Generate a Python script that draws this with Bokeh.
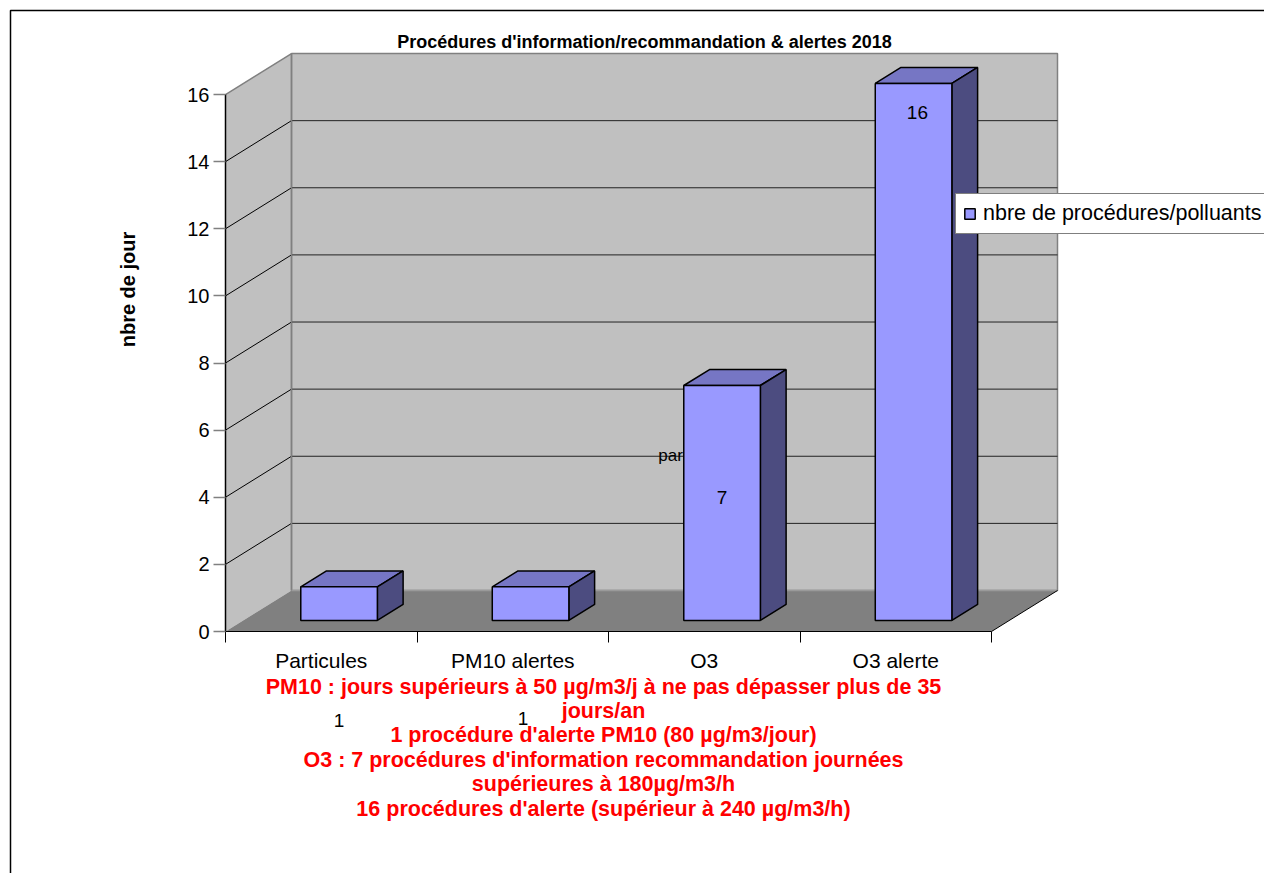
import numpy as np
from bokeh.plotting import figure
from bokeh.models import (Range1d, FixedTicker, Label, Legend, LegendItem,
                          ColumnDataSource, BoxAnnotation)
from bokeh.embed import file_html
from bokeh.resources import INLINE

# ---------------- data ----------------
categories = ["Particules", "PM10 alertes", "O3", "O3 alerte"]
counts = [1, 1, 7, 16]
y_ticks = [0, 2, 4, 6, 8, 10, 12, 14, 16]
series_name = "nbre de procédures/polluants"
title_text = "Procédures d'information/recommandation & alertes 2018"
y_label = "nbre de jour"
notes = [
    "PM10 : jours supérieurs à 50 µg/m3/j à ne pas dépasser plus de 35",
    "jours/an",
    "1 procédure d'alerte PM10 (80 µg/m3/jour)",
    "O3 : 7 procédures d'information recommandation journées",
    "supérieures à 180µg/m3/h",
    "16 procédures d'alerte (supérieur à 240 µg/m3/h)",
]

# ---------------- layout constants (pixels) ----------------
W, H = 1264, 873
X0, Y0 = 225, 631        # pixel position of the origin (front-left-bottom corner)
PX_X = 191.5             # px per category
PX_Y = 33.56             # px per value unit
DX = 66 / PX_X           # depth offset, data units
DY = 41 / PX_Y
YMAX = y_ticks[-1]
NC = len(categories)
FONT = "Liberation Sans"

BAR_W = 0.40
F0, F1 = 0.27, 0.66      # bar depth (fraction of box depth)

FRONT = "#9999FF"
TOP = "#7676C4"
SIDE = "#4C4C80"


def sy(py):
    """canvas pixel row -> screen units (measured up from bottom of frame)"""
    return H - py


p = figure(width=W, height=H, output_backend="svg", toolbar_location=None,
           x_range=Range1d(-X0 / PX_X, (W - X0) / PX_X),
           y_range=Range1d(-(H - Y0) / PX_Y, Y0 / PX_Y),
           min_border=0, min_border_left=0, min_border_right=0,
           min_border_top=0, min_border_bottom=0)
p.outline_line_color = None
p.xgrid.visible = False
p.ygrid.visible = False
p.background_fill_color = "white"
p.border_fill_color = "white"

# ---------------- 3D box ----------------
p.patch([0, DX, DX, 0], [0, DY, YMAX + DY, YMAX], fill_color="#C0C0C0", line_color=None)
p.quad(left=[DX], right=[NC + DX], bottom=[DY], top=[YMAX + DY],
       fill_color="#C0C0C0", line_color="#808080", line_width=1.5)
p.patch([0, NC, NC + DX, DX], [0, 0, DY, DY], fill_color="#808080", line_color=None)

inner = y_ticks[1:-1]
p.multi_line([[0, DX] for v in inner], [[v, v + DY] for v in inner], line_color="black", line_width=1)
p.multi_line([[DX, NC + DX] for v in inner], [[v + DY, v + DY] for v in inner], line_color="#222222", line_width=1)
p.line([0, DX], [YMAX, YMAX + DY], line_color="#808080", line_width=1.5)
p.line([DX, DX], [DY, YMAX + DY], line_color="#808080", line_width=1.5)
p.line([DX, NC + DX], [DY, DY], line_color="#9a9a9a", line_width=1.5)
p.line([NC, NC + DX], [0, DY], line_color="black", line_width=1)

# ---------------- bars ----------------
centers = np.arange(NC) + 0.5
fx, fy = F0 * DX, F0 * DY
bdx, bdy = (F1 - F0) * DX, (F1 - F0) * DY
L = centers - BAR_W / 2 + fx
R = centers + BAR_W / 2 + fx
vals = np.array(counts, dtype=float)

top_xs = [[l, r, r + bdx, l + bdx] for l, r in zip(L, R)]
top_ys = [[v + fy, v + fy, v + fy + bdy, v + fy + bdy] for v in vals]
side_xs = [[r, r, r + bdx, r + bdx] for r in R]
side_ys = [[fy, v + fy, v + fy + bdy, fy + bdy] for v in vals]

p.patches(top_xs, top_ys, fill_color=TOP, line_color="black", line_width=1.5)
p.patches(side_xs, side_ys, fill_color=SIDE, line_color="black", line_width=1.5)
src = ColumnDataSource(dict(left=L, right=R, bottom=np.full(NC, fy), top=vals + fy, cat=categories))
front = p.quad(left="left", right="right", bottom="bottom", top="top", source=src,
               fill_color=FRONT, line_color="black", line_width=1.5)

# ---------------- axes (drawn at the origin of the 3D box) ----------------
p.yaxis.fixed_location = 0
p.yaxis.ticker = FixedTicker(ticks=y_ticks)
p.yaxis.bounds = (0, YMAX)
p.yaxis.axis_line_color = "black"
p.yaxis.axis_line_width = 1.5
p.yaxis.major_tick_out = 12
p.yaxis.major_tick_in = 0
p.yaxis.minor_tick_out = 0
p.yaxis.minor_tick_in = 0
p.yaxis.major_tick_line_color = "#808080"
p.yaxis.major_tick_line_width = 1.5
p.yaxis.major_label_text_font = FONT
p.yaxis.major_label_text_font_size = "20px"
p.yaxis.major_label_text_color = "black"
p.yaxis.major_label_standoff = 4

p.xaxis.fixed_location = 0
p.xaxis.ticker = FixedTicker(ticks=list(centers), minor_ticks=list(range(NC + 1)))
p.xaxis.major_label_overrides = {float(c): name for c, name in zip(centers, categories)}
p.xaxis.bounds = (0, NC)
p.xaxis.axis_line_color = "black"
p.xaxis.axis_line_width = 1
p.xaxis.major_tick_out = 0
p.xaxis.major_tick_in = 0
p.xaxis.minor_tick_out = 11
p.xaxis.minor_tick_in = 0
p.xaxis.minor_tick_line_color = "black"
p.xaxis.major_label_text_font = FONT
p.xaxis.major_label_text_font_size = "21px"
p.xaxis.major_label_text_color = "black"
p.xaxis.major_label_standoff = 6

# ---------------- title ----------------
p.add_layout(Label(x=644, y=sy(41), x_units="screen", y_units="screen",
                   text=title_text, text_align="center", text_baseline="middle",
                   text_font=FONT, text_font_size="18px", text_font_style="bold",
                   text_color="black"))

# ---------------- legend ----------------
legend = Legend(items=[LegendItem(label=series_name, renderers=[front])],
                location=(955, sy(234)), orientation="vertical",
                glyph_width=13, glyph_height=13, label_height=15,
                padding=7, spacing=0, margin=0, label_standoff=7,
                label_text_font=FONT, label_text_font_size="21.5px",
                label_text_color="black",
                border_line_color="black", border_line_width=1,
                background_fill_color="white", background_fill_alpha=1)
p.add_layout(legend, "center")

# ---------------- texts ----------------
p.add_layout(Label(x=127, y=sy(289), x_units="screen", y_units="screen",
                   text=y_label, angle=np.pi / 2, text_align="center",
                   text_baseline="middle", text_font=FONT, text_font_size="20px",
                   text_font_style="bold", text_color="black"))

for i, line in enumerate(notes):
    p.add_layout(Label(x=603, y=sy(686 + i * 24.4), x_units="screen", y_units="screen",
                       text=line, text_align="center", text_baseline="middle",
                       text_font=FONT, text_font_size="21.5px", text_font_style="bold",
                       text_color="#FF0000"))

# value labels (Excel placed them at odd spots)
label_dx = [0.0, -0.04, 0.0, 0.02]
label_dy = [-3.98, -3.92, -3.33, -0.86]
for c, v, ddx, ddy in zip(centers, counts, label_dx, label_dy):
    p.add_layout(Label(x=c + fx + ddx, y=v + fy + ddy, text=str(v), text_align="center",
                       text_baseline="middle", text_font=FONT, text_font_size="19px",
                       text_color="black"))
p.add_layout(Label(x=L[2] - 0.005, y=5.24, text="par", text_align="right",
                   text_baseline="middle", text_font=FONT, text_font_size="17px",
                   text_color="black"))

# outer frame line
p.add_layout(BoxAnnotation(left=10, right=W + 20, top=sy(10), bottom=-20,
                           left_units="screen", right_units="screen",
                           top_units="screen", bottom_units="screen",
                           fill_alpha=0, line_color="black", line_alpha=1,
                           line_width=1.5))

open("out.html", "w").write(file_html(p, INLINE))
